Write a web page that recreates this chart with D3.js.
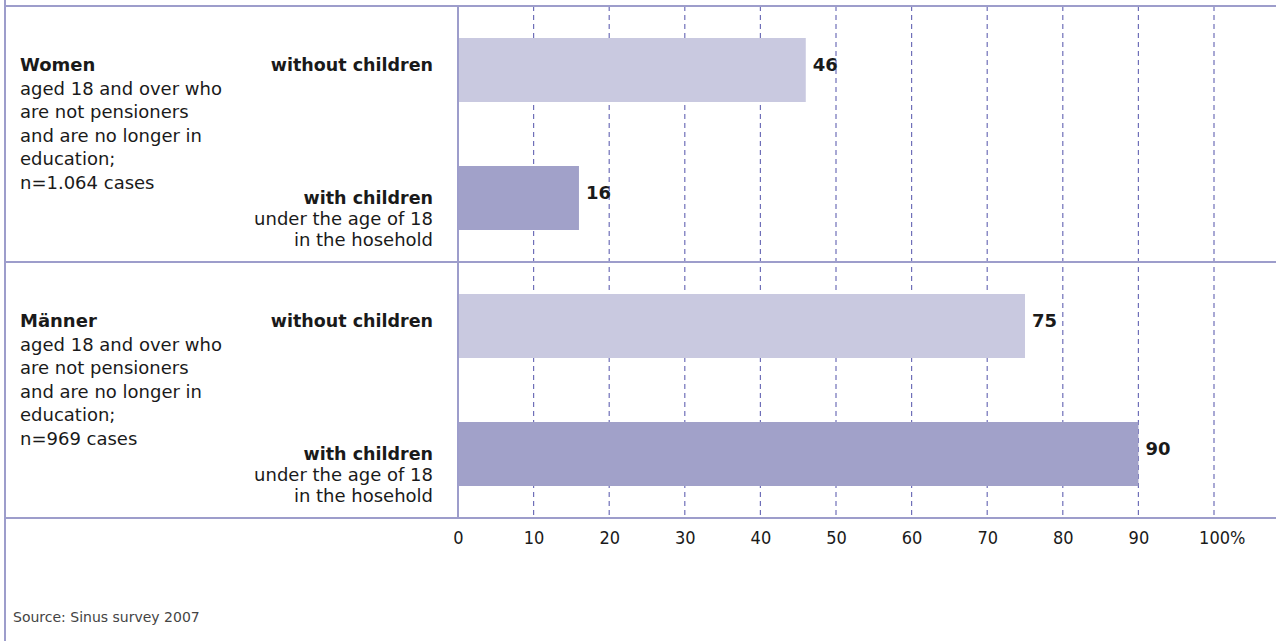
<!DOCTYPE html>
<html>
<head>
<meta charset="utf-8">
<script src="https://cdn.jsdelivr.net/npm/d3@7"></script>
<style>
  html, body { margin: 0; padding: 0; background: #fff; }
  svg { display: block; }
  .lbl { font-family: "DejaVu Sans", sans-serif; font-size: 18px; fill: #1a1a1a; }
  .bold { font-weight: bold; }
  .cat .bold { font-size: 17.5px; }
  .tick text { font-family: "DejaVu Sans Condensed", "DejaVu Sans", sans-serif; font-size: 18px; fill: #1a1a1a; }
  .source { font-family: "DejaVu Sans", sans-serif; font-size: 14px; fill: #444; }
</style>
</head>
<body>
<div id="chart"></div>
<script>
// ---- data ----
const groups = ["Women", "Männer"];
const groupNotes = [
  ["aged 18 and over who", "are not pensioners", "and are no longer in", "education;", "n=1.064 cases"],
  ["aged 18 and over who", "are not pensioners", "and are no longer in", "education;", "n=969 cases"]
];
const categories = ["without children", "with children"];
const categoryNotes = [[], ["under the age of 18", "in the hosehold"]];
const values = [[46, 16], [75, 90]];
const tickValues = [0, 10, 20, 30, 40, 50, 60, 70, 80, 90, 100];
const sourceText = "Source: Sinus survey 2007";

// ---- layout ----
const width = 1276, height = 641;
const topY = 6, leftEdge = 5;
const lineColor = "#9d9dcb";
const barColors = ["#c9c9e0", "#a1a1c9"];

// flatten to one row per bar
const rows = [];
groups.forEach((g, gi) => categories.forEach((c, ci) => {
  rows.push({ key: g + "|" + c, group: gi, cat: ci, value: values[gi][ci] });
}));

const svg = d3.select("#chart").append("svg")
  .attr("width", width).attr("height", height);

const x = d3.scaleLinear().domain([0, 100]).range([458, 1214]);
const y = d3.scaleBand()
  .domain(rows.map(d => d.key))
  .range([topY, topY + 512])
  .paddingInner(0.5)
  .paddingOuter(0.25);
const axisY = y.range()[1];

// dashed grid lines
svg.append("g").selectAll("line")
  .data(tickValues.slice(1))
  .join("line")
  .attr("x1", d => x(d)).attr("x2", d => x(d))
  .attr("y1", topY).attr("y2", axisY)
  .attr("stroke", "#6f6fb8").attr("stroke-width", 1.2)
  .attr("stroke-dasharray", "5,4");

// bars
svg.append("g").selectAll("rect")
  .data(rows)
  .join("rect")
  .attr("x", x(0))
  .attr("y", d => y(d.key))
  .attr("width", d => x(d.value) - x(0))
  .attr("height", y.bandwidth())
  .attr("fill", d => barColors[d.cat]);

// value labels
svg.append("g").selectAll("text")
  .data(rows)
  .join("text")
  .attr("class", "lbl bold")
  .attr("x", d => x(d.value) + 7)
  .attr("y", d => y(d.key) + y.bandwidth() / 2 + 1)
  .text(d => d.value);

// frame lines
const sepY = (y(rows[1].key) + y.bandwidth() + y(rows[2].key)) / 2;
const frame = svg.append("g").attr("stroke", lineColor).attr("stroke-width", 2);
frame.append("line").attr("x1", leftEdge).attr("x2", leftEdge).attr("y1", 0).attr("y2", height);
[topY, sepY, axisY].forEach(v => {
  frame.append("line").attr("x1", leftEdge).attr("x2", width).attr("y1", v).attr("y2", v);
});
frame.append("line").attr("x1", x(0)).attr("x2", x(0)).attr("y1", topY).attr("y2", axisY);

// category labels (right aligned next to the bars)
const lineH = 23.5;
const noteH = 21;
rows.forEach(d => {
  const cy = y(d.key) + y.bandwidth() / 2;
  const notes = categoryNotes[d.cat];
  const base = notes.length ? cy + 6 : cy + 1;
  const t = svg.append("text").attr("class", "lbl cat").attr("text-anchor", "end");
  t.append("tspan").attr("class", "bold").attr("x", 433).attr("y", base).text(categories[d.cat]);
  notes.forEach((n, i) => t.append("tspan").attr("x", 433).attr("y", base + (i + 1) * noteH).text(n));
});

// group labels on the left
groups.forEach((g, gi) => {
  const first = rows.find(r => r.group === gi);
  const base = y(first.key) + y.bandwidth() / 2 + 1;
  const t = svg.append("text").attr("class", "lbl");
  t.append("tspan").attr("class", "bold").attr("x", 20).attr("y", base).text(g);
  groupNotes[gi].forEach((n, i) => t.append("tspan").attr("x", 20).attr("y", base + (i + 1) * lineH).text(n));
});

// bottom axis (labels only)
const axis = d3.axisBottom(x)
  .tickValues(tickValues)
  .tickSize(0)
  .tickPadding(13)
  .tickFormat(d => d === 100 ? "100%" : d);
const axisG = svg.append("g").attr("transform", `translate(0, ${axisY})`).call(axis);
axisG.select(".domain").remove();
axisG.selectAll(".tick text").filter(d => d === 100).attr("dx", "0.43em");

// source
svg.append("text").attr("class", "source").attr("x", 13).attr("y", 622).text(sourceText);
</script>
</body>
</html>
